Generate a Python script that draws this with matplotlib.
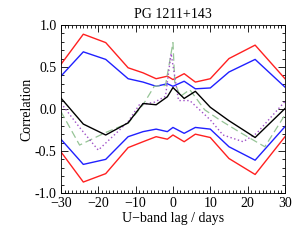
import matplotlib
matplotlib.use("Agg")
import matplotlib.pyplot as plt
from matplotlib.ticker import MultipleLocator, FormatStrFormatter

plt.rcParams['font.family'] = ['Liberation Serif', 'DejaVu Serif']
plt.rcParams['font.size'] = 10

# lag grid for the significance bands and the observed CCF
lags = [-30, -24, -18, -12, -8, -4.5, -1.5, 0, 3, 6, 10, 15, 22, 30]
red_hi = [0.53, 0.89, 0.79, 0.49, 0.43, 0.36, 0.39, 0.35, 0.42, 0.32, 0.36, 0.60, 0.76, 0.36]
blue_hi = [0.39, 0.68, 0.59, 0.36, 0.32, 0.27, 0.30, 0.27, 0.33, 0.24, 0.25, 0.44, 0.59, 0.26]
blue_lo = [-0.36, -0.66, -0.60, -0.33, -0.27, -0.24, -0.27, -0.22, -0.29, -0.22, -0.24, -0.45, -0.61, -0.21]
red_lo = [-0.51, -0.87, -0.77, -0.46, -0.39, -0.33, -0.36, -0.31, -0.39, -0.30, -0.34, -0.59, -0.78, -0.33]
ccf = [0.13, -0.18, -0.31, -0.165, 0.065, 0.05, 0.145, 0.255, 0.125, 0.21, 0.02, -0.14, -0.34, 0.005]

# dashed green curve
green_lag = [-30, -25, -18, -12, -8, -5, -2, 0, 0.5, 2, 4.5, 8.5, 12.5, 18, 24.6, 30]
green_val = [-0.03, -0.43, -0.28, -0.17, 0.05, 0.27, 0.28, 0.79, 0.31, 0.15, 0.23, -0.01, -0.13, -0.28, -0.45, -0.07]

# dotted purple curve
purple_lag = [-30, -25, -20, -15, -12, -9, -5, -2, -0.5, 1.5, 4.5, 10, 13.4, 18.8, 22.4, 30]
purple_val = [0.07, -0.22, -0.49, -0.28, -0.15, 0.05, 0.08, 0.15, 0.66, 0.1, 0.1, -0.13, -0.31, -0.39, -0.29, 0.09]

fig = plt.figure(figsize=(3.0, 2.4), dpi=100)
ax = fig.add_axes([0.203, 0.196, 0.747, 0.7])

ax.plot(lags, red_hi, color='#ff2020', lw=1.0)
ax.plot(lags, red_lo, color='#ff2020', lw=1.0)
ax.plot(lags, blue_hi, color='#2020ff', lw=1.0)
ax.plot(lags, blue_lo, color='#2020ff', lw=1.0)
ax.plot(green_lag, green_val, color='#96c496', lw=0.9, ls=(0, (6, 3)))
ax.plot(purple_lag, purple_val, color='#a050c8', lw=1.0, ls=(0, (1, 1.8)))
ax.plot(lags, ccf, color='black', lw=1.0)

ax.set_xlim(-30, 30)
ax.set_ylim(-1.0, 1.0)
ax.xaxis.set_major_locator(MultipleLocator(10))
ax.xaxis.set_minor_locator(MultipleLocator(1))
ax.yaxis.set_major_locator(MultipleLocator(0.5))
ax.yaxis.set_minor_locator(MultipleLocator(0.1))
ax.yaxis.set_major_formatter(FormatStrFormatter('%.1f'))
ax.tick_params(which='both', direction='in', top=True, right=True, width=0.6, labelsize=10)
ax.tick_params(which='major', length=5, pad=3)
ax.tick_params(which='minor', length=2.5)
for s in ax.spines.values():
    s.set_linewidth(0.6)

ax.set_title('PG 1211+143', fontsize=10, pad=5)
ax.set_xlabel('U\u2212band lag / days', fontsize=10, labelpad=1)
ax.set_ylabel('Correlation', fontsize=10, labelpad=1)

fig.savefig('out.png', dpi=100)
